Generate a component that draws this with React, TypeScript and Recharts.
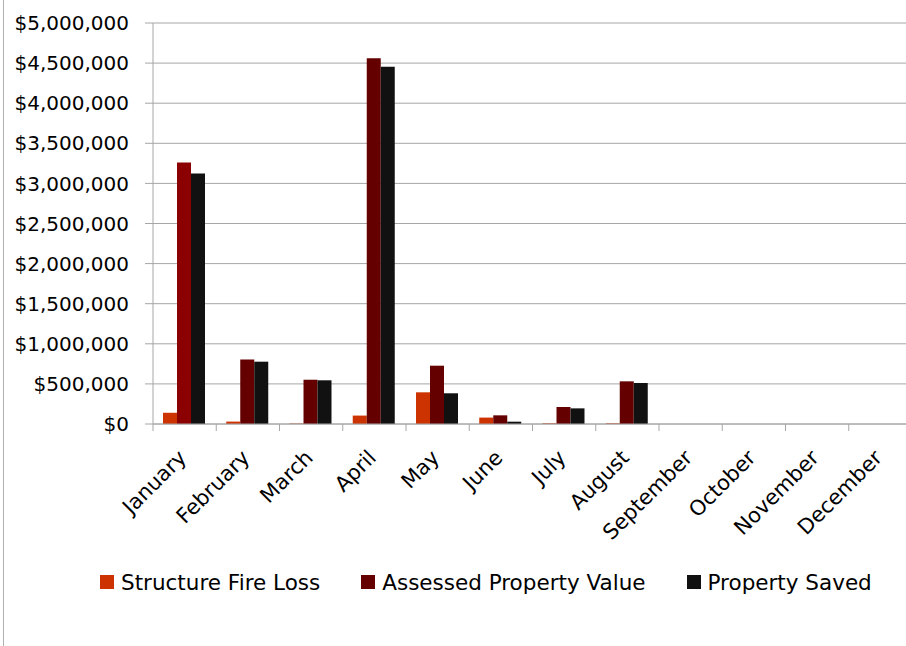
import React from 'react';
import { BarChart, Bar, XAxis, YAxis, CartesianGrid, Legend, Cell } from 'recharts';

const months = [
  'January', 'February', 'March', 'April', 'May', 'June',
  'July', 'August', 'September', 'October', 'November', 'December',
];
const structureFireLoss = [140000, 30000, 5000, 105000, 395000, 80000, 8000, 8000, 0, 0, 0, 0];
const assessedPropertyValue = [3260000, 805000, 552000, 4560000, 727000, 108000, 212000, 532000, 0, 0, 0, 0];
const propertySaved = [3125000, 777000, 545000, 4455000, 383000, 29000, 195000, 511000, 0, 0, 0, 0];
const yTicks = [0, 500000, 1000000, 1500000, 2000000, 2500000, 3000000, 3500000, 4000000, 4500000, 5000000];
const seriesOrder = ['Structure Fire Loss', 'Assessed Property Value', 'Property Saved'];

const data = months.map((month, i) => ({
  month,
  loss: structureFireLoss[i],
  assessed: assessedPropertyValue[i],
  saved: propertySaved[i],
}));

const FONT = '"DejaVu Sans", sans-serif';
const GRID = '#a6a6a6';

const money = (v: number) => '$' + v.toLocaleString('en-US');

const MonthTick = (props: any) => {
  const { x, y, payload } = props;
  const half = payload && typeof payload.offset === 'number' ? payload.offset : 31.5;
  const ax = x + 3;
  const ay = y + 35;
  return (
    <g>
      <line x1={x - half} y1={y} x2={x - half} y2={y + 7} stroke={GRID} />
      <text
        x={ax}
        y={ay}
        textAnchor="end"
        fontSize={21}
        fontFamily={FONT}
        fill="#000"
        transform={`rotate(-45, ${ax}, ${ay})`}
      >
        {payload.value}
      </text>
    </g>
  );
};

const LegendContent = (props: any) => {
  const items = [...(props.payload || [])].sort(
    (a: any, b: any) => seriesOrder.indexOf(a.value) - seriesOrder.indexOf(b.value)
  );
  return (
    <div
      style={{
        display: 'flex',
        height: 30,
        width: 900,
        alignItems: 'center',
        paddingLeft: 100,
        fontFamily: FONT,
        fontSize: 21.5,
        whiteSpace: 'nowrap',
        boxSizing: 'border-box',
      }}
    >
      {items.map((it: any) => (
        <div key={it.value} style={{ display: 'flex', alignItems: 'center', marginRight: 41, flexShrink: 0 }}>
          <span style={{ width: 14, height: 14, background: it.color, display: 'inline-block', marginRight: 7 }} />
          <span>{it.value}</span>
        </div>
      ))}
    </div>
  );
};

export default function App() {
  return (
    <div style={{ position: 'fixed', left: 0, top: 0, width: 906, height: 646, overflow: 'hidden', background: '#fff' }}>
      <div style={{ position: 'absolute', left: 3, top: 0, width: 1, height: 646, background: '#b0b0b0' }} />
      <BarChart
        width={912}
        height={646}
        data={data}
        margin={{ top: 23, right: 0, left: 0, bottom: 49 }}
        barCategoryGap={10}
        barGap={0}
      >
        <CartesianGrid vertical={false} stroke={GRID} />
        <XAxis
          dataKey="month"
          interval={0}
          tickLine={false}
          tickSize={0}
          tickMargin={0}
          height={143}
          stroke={GRID}
          tick={<MonthTick />}
        />
        <YAxis
          width={153}
          domain={[0, 5000000]}
          ticks={yTicks}
          interval={0}
          tickFormatter={money}
          tickSize={8}
          tickMargin={16}
          stroke={GRID}
          tick={{ fill: '#000', fontSize: 20, fontFamily: FONT }}
        />
        <Legend verticalAlign="bottom" content={<LegendContent />} />
        <Bar dataKey="loss" name="Structure Fire Loss" fill="#cc3300" isAnimationActive={false} />
        <Bar dataKey="assessed" name="Assessed Property Value" fill="#640000" isAnimationActive={false}>
          {data.map((d, i) => (
            <Cell key={d.month} fill={i === 0 ? '#8b0000' : '#640000'} />
          ))}
        </Bar>
        <Bar dataKey="saved" name="Property Saved" fill="#111111" isAnimationActive={false} />
      </BarChart>
    </div>
  );
}
